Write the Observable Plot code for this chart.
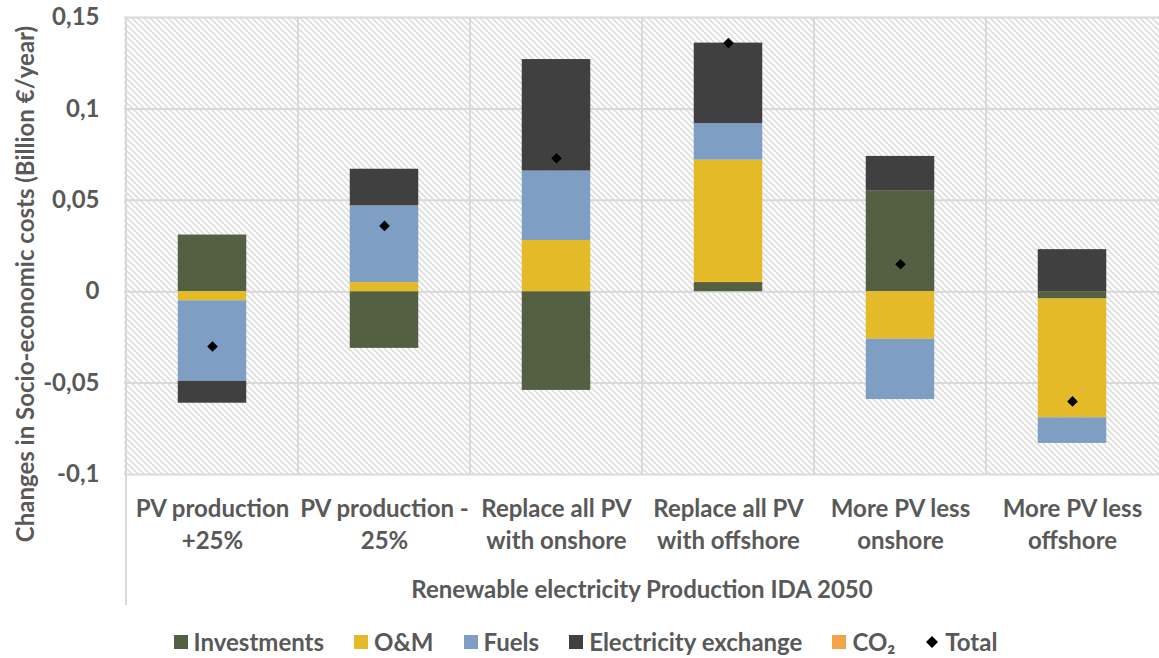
<!DOCTYPE html>
<html>
<head>
<meta charset="utf-8">
<script src="https://cdn.jsdelivr.net/npm/d3@7"></script>
<script src="https://cdn.jsdelivr.net/npm/@observablehq/plot@0.6"></script>
<style>
  body { margin: 0; background: #ffffff; }
  #wrap { position: relative; width: 1159px; height: 658px; font-family: Lato, "Open Sans", sans-serif; font-weight: bold; color: #595959; }
  #ytitle { position: absolute; left: 24px; top: 284px; transform: translate(-50%, -50%) rotate(-90deg); white-space: nowrap; font-size: 24px; }
  #legend { position: absolute; left: 0; top: 628px; width: 1159px; display: flex; justify-content: center; padding-left: 12px; box-sizing: border-box; font-size: 24px; line-height: 28px; }
  .item { display: flex; align-items: center; margin: 0 15px; }
  .sw { width: 14px; height: 14px; margin-right: 6px; }
</style>
</head>
<body>
<div id="wrap">
  <div id="chart"></div>
  <div id="ytitle"></div>
  <div id="legend"></div>
</div>
<script>
// ---- data ----
const categories = [
  "PV production +25%",
  "PV production -25%",
  "Replace all PV with onshore",
  "Replace all PV with offshore",
  "More PV less onshore",
  "More PV less offshore"
];
const categoryLines = [
  ["PV production", "+25%"],
  ["PV production -", "25%"],
  ["Replace all PV", "with onshore"],
  ["Replace all PV", "with offshore"],
  ["More PV less", "onshore"],
  ["More PV less", "offshore"]
];
const series = ["Investments", "O&M", "Fuels", "Electricity exchange", "CO₂"];
const seriesColors = ["#536142", "#E4BA28", "#7F9EC3", "#404040", "#F2A544"];

const investments = [0.031, -0.031, -0.054, 0.005, 0.055, -0.004];
const om = [-0.005, 0.005, 0.028, 0.067, -0.026, -0.065];
const fuels = [-0.044, 0.042, 0.038, 0.020, -0.033, -0.014];
const electricityExchange = [-0.012, 0.020, 0.061, 0.044, 0.019, 0.023];
const co2 = [0, 0, 0, 0, 0, 0];
const total = [-0.030, 0.036, 0.073, 0.136, 0.015, -0.060];

const yTicks = [-0.1, -0.05, 0, 0.05, 0.1, 0.15];
const yTitle = "Changes in Socio-economic costs (Billion €/year)";
const xTitle = "Renewable electricity Production IDA 2050";

// ---- tables built from the arrays ----
const seriesValues = [investments, om, fuels, electricityExchange, co2];
const rows = [];
series.forEach((s, si) => {
  categories.forEach((c, ci) => {
    const v = seriesValues[si][ci];
    if (v !== 0) rows.push({category: c, series: s, value: v});
  });
});
const totals = categories.map((c, i) => ({category: c, value: total[i]}));

const fmt = d => String(d).replace(".", ",");
const gridColor = "#d9d9d9";

function hatchBackground(index, scales, values, dims) {
  const g = d3.create("svg:g");
  const p = g.append("defs").append("pattern")
    .attr("id", "hatch").attr("patternUnits", "userSpaceOnUse")
    .attr("width", 6).attr("height", 6);
  p.append("rect").attr("width", 6).attr("height", 6).attr("fill", "#ffffff");
  p.append("path").attr("d", "M-1,-1L7,7M-1,5L1,7M5,-1L7,1")
    .attr("stroke", "#dedede").attr("stroke-width", 1.6);
  g.append("rect")
    .attr("x", dims.marginLeft).attr("y", dims.marginTop)
    .attr("width", dims.width - dims.marginLeft - dims.marginRight)
    .attr("height", dims.height - dims.marginTop - dims.marginBottom)
    .attr("fill", "url(#hatch)");
  return g.node();
}

function separators(index, scales, values, dims) {
  const g = d3.create("svg:g").attr("stroke", gridColor).attr("stroke-width", 2);
  categories.forEach((c, i) => {
    const x = scales.x(c);
    g.append("line")
      .attr("x1", x).attr("x2", x)
      .attr("y1", dims.marginTop)
      .attr("y2", i === 0 ? dims.height - 2 : dims.height - dims.marginBottom);
  });
  return g.node();
}

const chart = Plot.plot({
  width: 1159,
  height: 607,
  marginTop: 17,
  marginBottom: 133,
  marginLeft: 124,
  marginRight: 0,
  style: {fontFamily: "Lato, 'Open Sans', sans-serif", fontSize: "24px", fontWeight: "bold", color: "#595959", background: "transparent", overflow: "visible"},
  x: {domain: categories, padding: 0},
  y: {domain: [-0.1, 0.15]},
  color: {domain: series, range: seriesColors},
  marks: [
    hatchBackground,
    Plot.gridY(yTicks, {stroke: gridColor, strokeOpacity: 1, strokeWidth: 2}),
    separators,
    Plot.barY(rows, Plot.stackY({x: "category", y: "value", fill: "series", insetLeft: 51.75, insetRight: 51.75})),
    Plot.dot(totals, {x: "category", y: "value", symbol: "diamond2", fill: "black", stroke: "none", r: 4.8}),
    Plot.axisY(yTicks, {tickSize: 0, tickPadding: 25, tickFormat: fmt, label: null}),
    Plot.axisX({tickSize: 0, tickPadding: 20, tickFormat: d => categoryLines[categories.indexOf(d)].join("\n"), lineHeight: 32 / 24, label: null}),
    Plot.text([xTitle], {frameAnchor: "bottom", dy: 116, lineAnchor: "middle", text: d => d})
  ]
});
document.getElementById("chart").appendChild(chart);

document.getElementById("ytitle").textContent = yTitle;

// legend
const legend = document.getElementById("legend");
series.forEach((s, i) => {
  const item = document.createElement("div");
  item.className = "item";
  const sw = document.createElement("div");
  sw.className = "sw";
  sw.style.background = seriesColors[i];
  const t = document.createElement("span");
  t.textContent = s;
  item.appendChild(sw);
  item.appendChild(t);
  legend.appendChild(item);
});
const ti = document.createElement("div");
ti.className = "item";
ti.innerHTML = '<svg width="14" height="14" style="margin-right:6px"><polygon points="7,1 13,7 7,13 1,7" fill="black"/></svg><span>Total</span>';
legend.appendChild(ti);
</script>
</body>
</html>
